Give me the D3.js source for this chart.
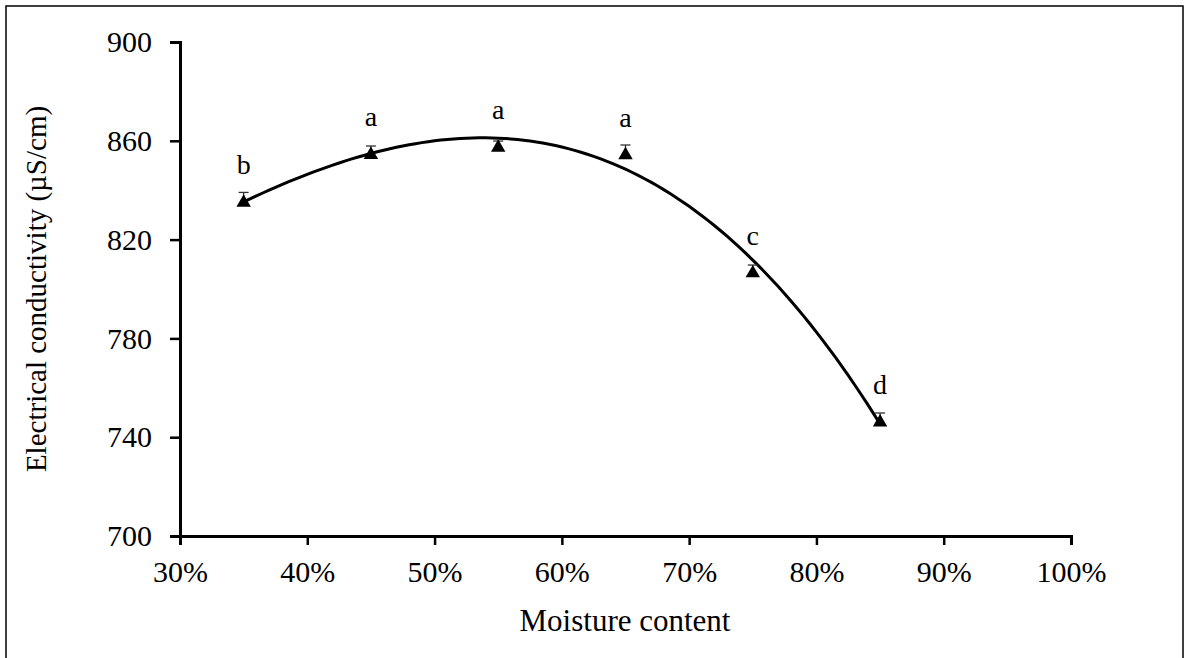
<!DOCTYPE html>
<html>
<head>
<meta charset="utf-8">
<script src="https://cdn.jsdelivr.net/npm/d3@7"></script>
<style>
  body { margin: 0; background: #fff; }
  svg text { font-family: "Liberation Serif", "Times New Roman", serif; fill: #000; }
</style>
</head>
<body>
<svg id="chart" width="1185" height="658"></svg>
<script>
// moisture content (%) and electrical conductivity (uS/cm)
var moisture = [35, 45, 55, 65, 75, 85];
var conductivity = [835.6, 854.9, 857.9, 854.8, 807.0, 746.6];
var errors = [3.5, 3.0, 2.0, 3.5, 2.7, 3.2];
var letters = ['b', 'a', 'a', 'a', 'c', 'd'];
var xTicks = [30, 40, 50, 60, 70, 80, 90, 100];
var yTicks = [700, 740, 780, 820, 860, 900];

var svg = d3.select('#chart');

// outer frame
svg.append('rect')
  .attr('x', 6).attr('y', 6)
  .attr('width', 1177).attr('height', 700)
  .attr('fill', 'none')
  .attr('stroke', '#000')
  .attr('stroke-width', 1.5);

var x = d3.scaleLinear().domain([30, 100]).range([180, 1071]);
var y = d3.scaleLinear().domain([700, 900]).range([536, 42]);

var xAxis = svg.append('g')
  .attr('transform', 'translate(0,536)')
  .call(d3.axisBottom(x).tickValues(xTicks).tickSize(9).tickPadding(16)
    .tickFormat(function (d) { return d + '%'; }));

var yAxis = svg.append('g')
  .attr('transform', 'translate(180,0)')
  .call(d3.axisLeft(y).tickValues(yTicks).tickSize(10).tickPadding(18));

[xAxis, yAxis].forEach(function (g) {
  g.select('.domain').attr('stroke', '#000').attr('stroke-width', 3);
  g.selectAll('.tick line').attr('stroke', '#000').attr('stroke-width', 2.5);
  g.selectAll('.tick text')
    .style('font-family', '"Liberation Serif", serif')
    .style('font-size', '30px')
    .attr('fill', '#000');
});

svg.append('text')
  .attr('x', 625).attr('y', 631)
  .attr('text-anchor', 'middle')
  .style('font-size', '31px')
  .text('Moisture content');

svg.append('text')
  .attr('transform', 'translate(46,289) rotate(-90)')
  .attr('text-anchor', 'middle')
  .style('font-size', '29px')
  .text('Electrical conductivity (\u00b5S/cm)');

// cubic least-squares trendline through the measured points
function polyFit(xs, ys, order) {
  var n = order + 1;
  var A = [], b = [];
  for (var i = 0; i < n; i++) {
    A.push([]);
    for (var j = 0; j < n; j++) {
      A[i].push(d3.sum(xs, function (v) { return Math.pow(v, i + j); }));
    }
    b.push(d3.sum(xs, function (v, k) { return ys[k] * Math.pow(v, i); }));
  }
  for (var c = 0; c < n; c++) {
    var p = c;
    for (var r = c + 1; r < n; r++) if (Math.abs(A[r][c]) > Math.abs(A[p][c])) p = r;
    var t = A[c]; A[c] = A[p]; A[p] = t;
    var tb = b[c]; b[c] = b[p]; b[p] = tb;
    for (var r2 = c + 1; r2 < n; r2++) {
      var f = A[r2][c] / A[c][c];
      for (var k = c; k < n; k++) A[r2][k] -= f * A[c][k];
      b[r2] -= f * b[c];
    }
  }
  var coef = new Array(n);
  for (var i2 = n - 1; i2 >= 0; i2--) {
    var s = b[i2];
    for (var j2 = i2 + 1; j2 < n; j2++) s -= A[i2][j2] * coef[j2];
    coef[i2] = s / A[i2][i2];
  }
  return function (v) {
    return d3.sum(coef, function (cf, i) { return cf * Math.pow(v, i); });
  };
}

var trend = polyFit(moisture, conductivity, 3);
var trendPts = d3.range(0, 101).map(function (i) {
  var m = d3.min(moisture) + (d3.max(moisture) - d3.min(moisture)) * i / 100;
  return [m, trend(m)];
});

svg.append('path')
  .datum(trendPts)
  .attr('fill', 'none')
  .attr('stroke', '#000')
  .attr('stroke-width', 3)
  .attr('d', d3.line()
    .x(function (d) { return x(d[0]); })
    .y(function (d) { return y(d[1]); }));

var pts = moisture.map(function (m, i) {
  return { m: m, v: conductivity[i], e: errors[i], l: letters[i] };
});

// error bars (plus direction, lower half sits under the marker)
var eb = svg.append('g').selectAll('g').data(pts).enter().append('g')
  .attr('stroke', '#333').attr('stroke-width', 1.3);
eb.append('line')
  .attr('x1', function (d) { return x(d.m); })
  .attr('x2', function (d) { return x(d.m); })
  .attr('y1', function (d) { return y(d.v); })
  .attr('y2', function (d) { return y(d.v + d.e); });
eb.append('line')
  .attr('x1', function (d) { return x(d.m) - 5; })
  .attr('x2', function (d) { return x(d.m) + 5; })
  .attr('y1', function (d) { return y(d.v + d.e); })
  .attr('y2', function (d) { return y(d.v + d.e); });

// markers
svg.append('g').selectAll('path').data(pts).enter().append('path')
  .attr('d', d3.symbol(d3.symbolTriangle).size(90))
  .attr('transform', function (d) { return 'translate(' + x(d.m) + ',' + (y(d.v) + 1.5) + ')'; })
  .attr('fill', '#000');

// significance letters
svg.append('g').selectAll('text').data(pts).enter().append('text')
  .attr('x', function (d) { return x(d.m); })
  .attr('y', function (d) { return y(d.v) - 27; })
  .attr('text-anchor', 'middle')
  .style('font-size', '28px')
  .text(function (d) { return d.l; });
</script>
</body>
</html>
